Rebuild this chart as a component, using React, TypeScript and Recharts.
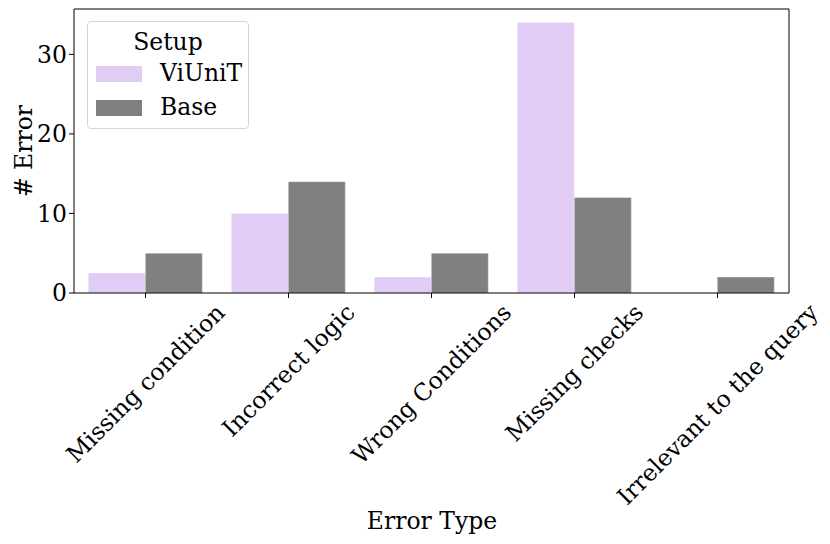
import React from "react";
import { BarChart, Bar, XAxis, YAxis, Legend } from "recharts";

const categories = ["Missing condition", "Incorrect logic", "Wrong Conditions", "Missing checks", "Irrelevant to the query"];
const viunit = [2.5, 10, 2, 34, 0];
const base = [5, 14, 5, 12, 2];
const yTicks = [0, 10, 20, 30];

const seriesNames = ["ViUniT", "Base"];
const colors = ["#e0ccf5", "#808080"];

const data = categories.map((name, i) => ({ name, ViUniT: viunit[i], Base: base[i] }));

const FONT = "'DejaVu Serif', serif";
const FS = 23.5;

let ctx: CanvasRenderingContext2D | null = null;
function textWidth(s: string) {
  if (!ctx) ctx = document.createElement("canvas").getContext("2d");
  if (!ctx) return s.length * FS * 0.58;
  ctx.font = `${FS}px 'DejaVu Serif'`;
  return ctx.measureText(s).width;
}

function RotTick(props: any) {
  const { x, y, payload } = props;
  const L = textWidth(payload.value);
  const h = FS * 1.0;
  const cy = y + (L + h) / (2 * Math.SQRT2);
  return (
    <text
      x={x}
      y={cy}
      textAnchor="middle"
      dominantBaseline="central"
      transform={`rotate(-45, ${x}, ${cy})`}
      fontFamily={FONT}
      fontSize={FS}
      fill="#000"
    >
      {payload.value}
    </text>
  );
}

function LegendBox() {
  return (
    <div
      style={{
        position: "relative",
        width: 162,
        height: 108,
        boxSizing: "border-box",
        border: "1px solid #d6d6d6",
        borderRadius: 4,
        background: "rgba(255,255,255,0.8)",
        fontFamily: FONT,
        fontSize: FS,
        color: "#000",
      }}
    >
      <div style={{ position: "absolute", left: 0, width: 160, top: 6, textAlign: "center", lineHeight: "28px" }}>Setup</div>
      {seriesNames.map((n, i) => (
        <React.Fragment key={n}>
          <div
            style={{
              position: "absolute",
              left: 8,
              top: 44 + i * 34,
              width: 46,
              height: 16,
              background: colors[i],
            }}
          />
          <div style={{ position: "absolute", left: 72, top: 37 + i * 34, lineHeight: "28px" }}>{n}</div>
        </React.Fragment>
      ))}
    </div>
  );
}

export default function App() {
  return (
    <div style={{ position: "absolute", left: 0, top: 0, width: 830, height: 544, background: "#fff" }}>
      <BarChart
        width={830}
        height={544}
        data={data}
        margin={{ top: 8, right: 40, left: 0, bottom: 0 }}
        barCategoryGap="10%"
        barGap={0}
      >
        <XAxis
          dataKey="name"
          height={251}
          interval={0}
          tickSize={5}
          tickMargin={2}
          stroke="#000"
          tickLine={{ stroke: "#000" }}
          axisLine={{ stroke: "#000" }}
          tick={<RotTick />}
          label={{
            content: () => (
              <text x={432} y={521} textAnchor="middle" dominantBaseline="central" fontFamily={FONT} fontSize={FS} fill="#000">
                Error Type
              </text>
            ),
          }}
        />
        <XAxis xAxisId="top" dataKey="name" orientation="top" height={1} tick={false} tickLine={false} axisLine={{ stroke: "#000" }} />
        <YAxis
          width={74}
          domain={[0, 35.7]}
          ticks={yTicks}
          tickSize={5}
          tickMargin={2}
          axisLine={{ stroke: "#000" }}
          tickLine={{ stroke: "#000" }}
          tick={{ fontFamily: FONT, fontSize: FS, fill: "#000" }}
          label={{
            content: () => (
              <text
                x={24}
                y={151}
                textAnchor="middle"
                dominantBaseline="central"
                transform="rotate(-90, 24, 151)"
                fontFamily={FONT}
                fontSize={FS}
                fill="#000"
              >
                # Error
              </text>
            ),
          }}
        />
        <YAxis yAxisId="right" orientation="right" width={1} domain={[0, 35.7]} tick={false} tickLine={false} axisLine={{ stroke: "#000" }} />
        <Legend
          layout="vertical"
          align="center"
          verticalAlign="middle"
          content={() => <LegendBox />}
          wrapperStyle={{ position: "absolute", left: 87, top: 21, width: 162, height: 108 }}
        />
        <Bar dataKey="ViUniT" fill={colors[0]} stroke="rgba(255,255,255,0.35)" strokeWidth={1} isAnimationActive={false} />
        <Bar dataKey="Base" fill={colors[1]} stroke="rgba(255,255,255,0.35)" strokeWidth={1} isAnimationActive={false} />
      </BarChart>
    </div>
  );
}
